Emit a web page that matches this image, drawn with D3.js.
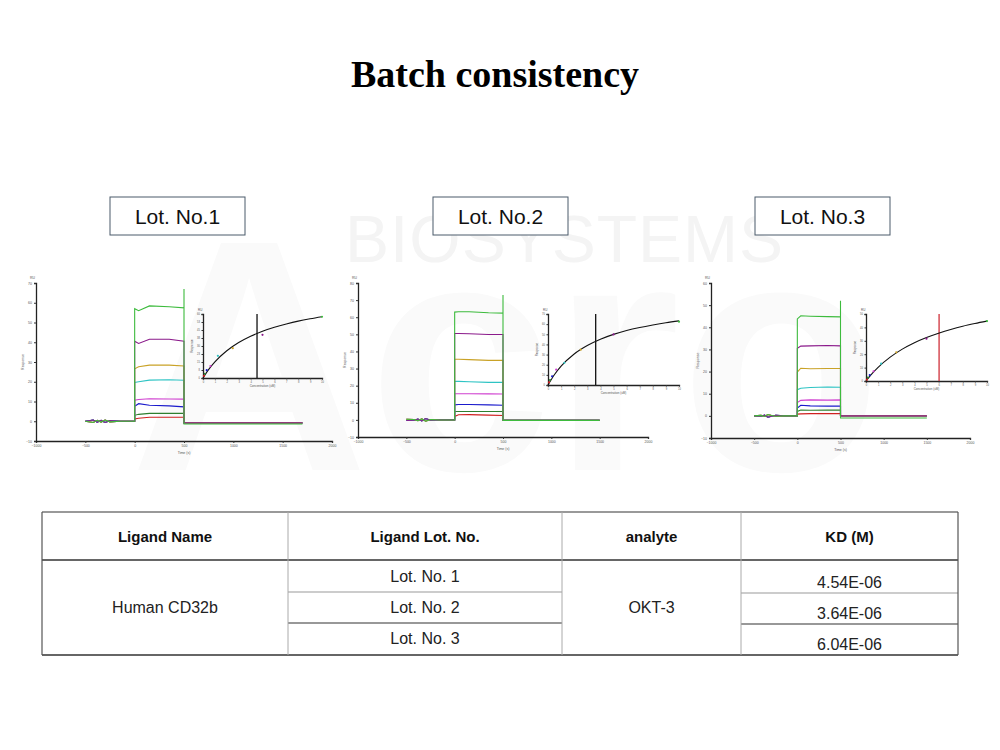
<!DOCTYPE html>
<html>
<head>
<meta charset="utf-8">
<script src="https://cdn.jsdelivr.net/npm/d3@7"></script>
<style>
  body { margin: 0; background: #fff; }
  svg text { font-family: 'Liberation Sans', Arial, sans-serif; }
</style>
</head>
<body>
<svg id="chart" width="1000" height="750"></svg>
<script>
// ---- data ----
const lotNames = ['Lot. No.1', 'Lot. No.2', 'Lot. No.3'];
const curveColors = ['#3dbb3d', '#8b1a8b', '#c9a227', '#2ec4c4', '#d040d0', '#1a1acc', '#2f7f2f', '#d02020'];
const concentrations = [10, 5, 2.5, 1.25, 0.625, 0.3125, 0.156, 0.078]; // uM, same order as colours

// association knots (s) and baseline knots (s)
const assocTimes = [0, 40, 150, 350, 500];
const baseTimes = [-500, -420, -380, -340, -300, -250, -150, 0];
const baseNoise = [
  [0, -0.6, 0.5, -0.4, 0.6, -0.3, 0, 0],
  [0.4, 0.2, -0.5, 0.6, -0.8, 0.2, -0.1, 0],
  [0, 0.2, -0.3, 0.6, 0.2, -0.2, 0, 0],
];
const dissocEnd = [1700, 1500, 1500];

// response values at assocTimes, one row per concentration
const lot1Assoc = [
  [57, 56, 58.4, 58, 57.4],
  [40.5, 39.4, 41.5, 41.5, 40.5],
  [26.6, 27.6, 28.4, 28.4, 28],
  [19.6, 20, 20.8, 21, 20.8],
  [10.6, 11, 11.4, 11.3, 11.2],
  [7.6, 8.9, 8.1, 7.8, 7.3],
  [3, 3.5, 4, 4, 4],
  [1.2, 1.5, 2, 2, 2],
];
const lot2Assoc = [
  [63, 63.2, 63.2, 62.6, 62.4],
  [50.5, 50.5, 50.3, 49.9, 49.9],
  [35.4, 35.4, 35.2, 34.8, 34.8],
  [22.5, 22.5, 22.3, 21.9, 21.9],
  [15.3, 15.3, 15.3, 15.2, 15.1],
  [8.8, 9, 9, 8.8, 8.6],
  [4.9, 4.9, 4.9, 4.9, 4.9],
  [2, 3, 3.1, 2.8, 2.6],
];
const lot3Assoc = [
  [43.8, 45.2, 45, 44.8, 44.7],
  [30.5, 31.5, 31.6, 31.8, 31.6],
  [19.8, 21.5, 21.3, 21.4, 21.4],
  [11.8, 12.5, 12.8, 13, 12.9],
  [6, 7, 7.2, 7.1, 7.2],
  [3.5, 4.8, 4.5, 4.4, 4.4],
  [2, 2.6, 2.5, 2.6, 2.6],
  [0.8, 0.9, 1, 1, 1],
];
const lot1Dissoc = [-1.4, -0.8, -0.8, -0.8, -0.8, -0.8, -0.8, -0.8];
const lot2Dissoc = [-0.3, -0.3, -0.3, -0.3, -0.3, -0.3, -0.3, -0.3];
const lot3Dissoc = [-1, 0, 0, 0, 0, 0, 0, 0];
const greenSpike = [67, 73, 52];

// steady-state fit curves
const fitConc = [0, 0.5, 1, 2, 3, 4, 5, 6, 7, 8, 9, 10];
const lot1Fit = [0, 8.3, 15.1, 25.5, 33.2, 39.1, 43.8, 47.5, 50.6, 53.3, 55.5, 57.4];
const lot2Fit = [0, 10.4, 18.6, 30.6, 38.9, 45.1, 49.9, 53.7, 56.7, 59.2, 61.4, 63.2];
const lot3Fit = [0, 5.5, 10.2, 17.8, 23.8, 28.6, 32.5, 35.7, 38.5, 40.9, 42.9, 44.7];

// table
const tableHeaders = ['Ligand Name', 'Ligand Lot. No.', 'analyte', 'KD (M)'];
const ligandName = 'Human CD32b';
const tableLots = ['Lot. No. 1', 'Lot. No. 2', 'Lot. No. 3'];
const analyteName = 'OKT-3';
const kdValues = ['4.54E-06', '3.64E-06', '6.04E-06'];

const xTicks = [-1000, -500, 0, 500, 1000, 1500, 2000];
const yTicks = [
  [-10, 0, 10, 20, 30, 40, 50, 60, 70],
  [-10, 0, 10, 20, 30, 40, 50, 60, 70, 80],
  [-10, 0, 10, 20, 30, 40, 50, 60],
];
const insetXTicks = [0, 1, 2, 3, 4, 5, 6, 7, 8, 9, 10];
const insetYTicks = [
  [0, 7.5, 15, 22.5, 30, 37.5, 45, 52.5, 60],
  [0, 10, 20, 30, 40, 50, 60, 70],
  [0, 10, 20, 30, 40, 50],
];

// ---- layout ----
const assocData = [lot1Assoc, lot2Assoc, lot3Assoc];
const dissocData = [lot1Dissoc, lot2Dissoc, lot3Dissoc];
const fitData = [lot1Fit, lot2Fit, lot3Fit];
const layout = [
  { box: 110, main: [36, 332, 283, 441], inset: [203, 322, 314, 378], kdColor: '#111' },
  { box: 433, main: [358, 648, 283, 437], inset: [548, 679, 314, 385], kdColor: '#111' },
  { box: 755, main: [711, 970, 283, 438], inset: [866, 987, 314, 381], kdColor: '#d0303a' },
];

const svg = d3.select('#chart');

// watermark
svg.append('text').attr('x', 130).attr('y', 470)
  .attr('font-size', 330).attr('font-weight', 'bold')
  .attr('fill', '#fafafa').text('Acro');
svg.append('text').attr('x', 345).attr('y', 262)
  .attr('font-size', 66).attr('fill', '#f4f4f4')
  .attr('letter-spacing', 1).text('BIOSYSTEMS');

svg.append('text')
  .attr('x', 495).attr('y', 87)
  .attr('text-anchor', 'middle')
  .style('font-family', "'Liberation Serif', 'Times New Roman', serif")
  .attr('font-size', 38).attr('font-weight', 'bold')
  .text('Batch consistency');

const styleAxis = (g) => {
  g.select('.domain').attr('stroke', '#222').attr('stroke-width', 1.3);
  g.selectAll('.tick line').attr('stroke', '#333');
  g.selectAll('.tick text').attr('font-size', 3.5).attr('fill', '#555');
};

const line = d3.line();
const fmt = d3.format('d');

lotNames.forEach((name, li) => {
  const L = layout[li];

  svg.append('rect')
    .attr('x', L.box).attr('y', 197).attr('width', 135).attr('height', 38)
    .attr('fill', '#fff').attr('stroke', '#4a5a6a').attr('stroke-width', 1);
  svg.append('text')
    .attr('x', L.box + 67.5).attr('y', 224).attr('text-anchor', 'middle')
    .attr('font-size', 21).attr('fill', '#111').text(name);

  // sensorgram
  const [mx0, mx1, my0, my1] = L.main;
  const x = d3.scaleLinear().domain([-1000, 2000]).range([mx0, mx1]);
  const yd = yTicks[li];
  const y = d3.scaleLinear().domain([yd[0], yd[yd.length - 1]]).range([my1, my0]);

  const g = svg.append('g');
  g.append('g').attr('transform', `translate(0,${my1})`)
    .call(d3.axisBottom(x).tickValues(xTicks).tickFormat(fmt).tickSize(2).tickPadding(2))
    .call(styleAxis);
  g.append('g').attr('transform', `translate(${mx0},0)`)
    .call(d3.axisLeft(y).tickValues(yd).tickFormat(fmt).tickSize(2).tickPadding(2))
    .call(styleAxis);
  g.append('text').attr('x', mx0 - 6).attr('y', my0 - 4)
    .attr('font-size', 3.5).attr('fill', '#555').text('RU');
  g.append('text').attr('transform', `translate(${mx0 - 12},${(my0 + my1) / 2}) rotate(-90)`)
    .attr('text-anchor', 'middle').attr('font-size', 3.5).attr('fill', '#555').text('Response');
  g.append('text').attr('x', x(500)).attr('y', my1 + 13).attr('text-anchor', 'middle')
    .attr('font-size', 3.5).attr('fill', '#555').text('Time (s)');

  const assoc = assocData[li];
  const diss = dissocData[li];
  const curves = assoc.map((vals, ci) => {
    const pts = baseTimes.map((t, k) => [t, baseNoise[li][k] * (ci % 2 ? -1 : 1)]);
    assocTimes.forEach((t, k) => pts.push([t, vals[k]]));
    if (ci === 0) pts.push([500, greenSpike[li]]);
    pts.push([500, diss[ci]]);
    pts.push([dissocEnd[li], diss[ci]]);
    return { color: curveColors[ci], pts };
  });
  curves.slice().reverse().forEach((c) => {
    g.append('path')
      .attr('d', line(c.pts.map(([t, v]) => [x(t), y(v)])))
      .attr('fill', 'none').attr('stroke', c.color).attr('stroke-width', 1.1);
  });

  // inset steady-state plot
  const [ix0, ix1, iy0, iy1] = L.inset;
  const iyt = insetYTicks[li];
  const ix = d3.scaleLinear().domain([0, 10]).range([ix0, ix1]);
  const iy = d3.scaleLinear().domain([0, iyt[iyt.length - 1]]).range([iy1, iy0]);
  const ig = svg.append('g');
  ig.append('g').attr('transform', `translate(0,${iy1})`)
    .call(d3.axisBottom(ix).tickValues(insetXTicks).tickSize(1.5).tickPadding(1.5))
    .call(styleAxis);
  ig.append('g').attr('transform', `translate(${ix0},0)`)
    .call(d3.axisLeft(iy).tickValues(iyt).tickSize(1.5).tickPadding(1.5))
    .call(styleAxis);
  ig.selectAll('.tick text').attr('font-size', 2.6);
  ig.append('text').attr('x', ix0 - 5).attr('y', iy0 - 3)
    .attr('font-size', 3).attr('fill', '#555').text('RU');
  ig.append('text').attr('transform', `translate(${ix0 - 10},${(iy0 + iy1) / 2}) rotate(-90)`)
    .attr('text-anchor', 'middle').attr('font-size', 3).attr('fill', '#555').text('Response');
  ig.append('text').attr('x', (ix0 + ix1) / 2).attr('y', iy1 + 9).attr('text-anchor', 'middle')
    .attr('font-size', 3).attr('fill', '#555').text('Concentration (uM)');

  const kd = parseFloat(kdValues[li]) * 1e6;
  ig.append('line')
    .attr('x1', ix(kd)).attr('x2', ix(kd)).attr('y1', iy0).attr('y2', iy1)
    .attr('stroke', L.kdColor).attr('stroke-width', 1.3);

  ig.append('path')
    .attr('d', d3.line().curve(d3.curveMonotoneX)(fitConc.map((c, k) => [ix(c), iy(fitData[li][k])])))
    .attr('fill', 'none').attr('stroke', '#111').attr('stroke-width', 1.1);

  ig.selectAll('circle.pt')
    .data(concentrations)
    .enter()
    .append('circle')
    .attr('cx', (c) => ix(c))
    .attr('cy', (c, ci) => iy(assoc[ci][assoc[ci].length - 1]))
    .attr('r', 1.1)
    .attr('fill', (c, ci) => curveColors[ci]);
});

// ---- table ----
const colX = [42, 288, 562, 741, 958];
const rowY = [512, 560, 592, 623, 655];
const tg = svg.append('g');
const hline = (x1, x2, yy, color, w) =>
  tg.append('line').attr('x1', x1).attr('x2', x2).attr('y1', yy).attr('y2', yy)
    .attr('stroke', color).attr('stroke-width', w);
const vline = (xx, y1, y2, color, w) =>
  tg.append('line').attr('x1', xx).attr('x2', xx).attr('y1', y1).attr('y2', y2)
    .attr('stroke', color).attr('stroke-width', w);

hline(colX[0], colX[4], rowY[0], '#777', 1.5);
hline(colX[0], colX[4], rowY[1], '#333', 1.5);
hline(colX[1], colX[2], rowY[2], '#999', 1.2);
hline(colX[1], colX[2], rowY[3], '#333', 1.2);
hline(colX[3], colX[4], rowY[2] + 1, '#999', 1.2);
hline(colX[3], colX[4], rowY[3] + 1, '#333', 1.2);
hline(colX[0], colX[4], rowY[4], '#333', 1.5);
vline(colX[0], rowY[0], rowY[4], '#555', 1.2);
vline(colX[4], rowY[0], rowY[4], '#555', 1.2);
[1, 2, 3].forEach((i) => vline(colX[i], rowY[0], rowY[4], '#aaa', 1));

tableHeaders.forEach((h, i) => {
  tg.append('text')
    .attr('x', (colX[i] + colX[i + 1]) / 2).attr('y', 542)
    .attr('text-anchor', 'middle').attr('font-size', 15).attr('font-weight', 'bold')
    .attr('fill', '#111').text(h);
});
tg.append('text').attr('x', (colX[0] + colX[1]) / 2).attr('y', 613)
  .attr('text-anchor', 'middle').attr('font-size', 16).attr('fill', '#222').text(ligandName);
tg.append('text').attr('x', (colX[2] + colX[3]) / 2).attr('y', 613)
  .attr('text-anchor', 'middle').attr('font-size', 16).attr('fill', '#222').text(analyteName);
tableLots.forEach((t, i) => {
  tg.append('text').attr('x', (colX[1] + colX[2]) / 2).attr('y', 582 + i * 31)
    .attr('text-anchor', 'middle').attr('font-size', 16).attr('fill', '#222').text(t);
});
kdValues.forEach((t, i) => {
  tg.append('text').attr('x', (colX[3] + colX[4]) / 2).attr('y', 588 + i * 31)
    .attr('text-anchor', 'middle').attr('font-size', 16).attr('fill', '#222').text(t);
});
</script>
</body>
</html>
